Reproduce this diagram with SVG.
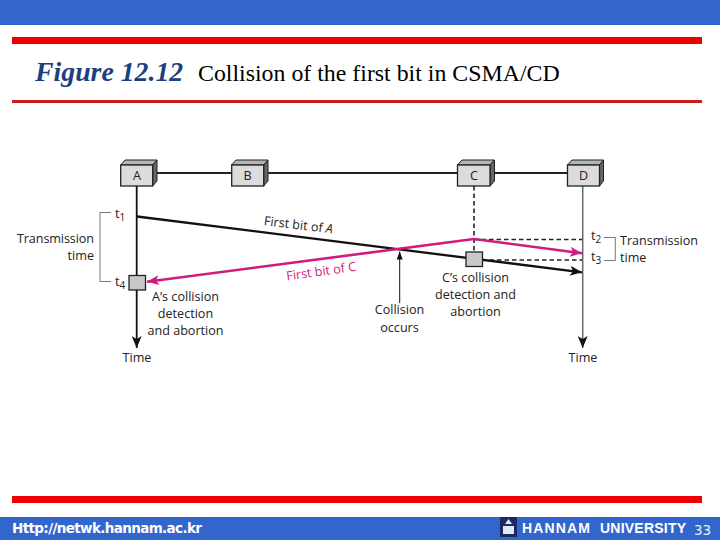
<svg xmlns="http://www.w3.org/2000/svg" width="720" height="540" viewBox="0 0 720 540">
<defs>
<style>
text{font-family:"Open Sans","Noto Sans","Liberation Sans",sans-serif;font-size:12.600px;fill:#222}
.m{text-anchor:middle}
.front{fill:#dcdcdc;stroke:#222;stroke-width:1.3}
.top{fill:#b5b5b5;stroke:#222;stroke-width:1}
.side{fill:#666;stroke:#222;stroke-width:1}
.sq{fill:#c8c8c8;stroke:#222;stroke-width:1.3}
.dash{fill:none;stroke:#222;stroke-width:1.600;stroke-dasharray:4.500 3}
.br{fill:none;stroke:#777;stroke-width:1}
.foot{font-family:"Liberation Sans",sans-serif;font-size:14px;font-weight:bold;fill:#fff}
</style>
<marker id="ak" markerUnits="userSpaceOnUse" viewBox="0 0 12 10" refX="12" refY="5" markerWidth="12" markerHeight="10" orient="auto"><path d="M0 0L12 5L0 10L3 5Z" fill="#111"/></marker>
<marker id="am" markerUnits="userSpaceOnUse" viewBox="0 0 12 10" refX="12" refY="5" markerWidth="13" markerHeight="10" orient="auto"><path d="M0 0L12 5L0 10L3 5Z" fill="#d01c7c"/></marker>
<marker id="as" markerUnits="userSpaceOnUse" viewBox="0 0 8 6" refX="8" refY="3" markerWidth="8" markerHeight="6" orient="auto"><path d="M0 0L8 3L0 6Z" fill="#111"/></marker>
</defs>
<rect width="720" height="540" fill="#fff"/>
<g id="frame">
<rect x="0" y="0" width="720" height="25" fill="#3366cc"/>
<rect x="12" y="37" width="690" height="7" fill="#ee0000"/>
<rect x="12" y="100" width="690" height="3" fill="#c81e1e"/>
<rect x="12" y="496" width="690" height="7" fill="#ee0000"/>
<rect x="0" y="517" width="720" height="23" fill="#3366cc"/>
<rect x="500" y="517" width="17" height="20" fill="#1a2a5e"/>
<path d="M508.500 519L512 524L505 524Z M503 526H514V534H503Z" fill="#dfe6f5"/>
</g>
<text x="35" y="81" style="font-family:'Liberation Serif',serif;font-size:27.800px;font-weight:bold;font-style:italic;fill:#1c3f80">Figure 12.12</text>
<text x="198" y="81" style="font-family:'Liberation Serif',serif;font-size:23.850px;fill:#000">Collision of the first bit in CSMA/CD</text>
<text x="12" y="533" style="font-family:'DejaVu Sans',sans-serif;font-size:13.500px;font-weight:bold;fill:#fff" textLength="190">Http://netwk.hannam.ac.kr</text>
<text x="522" y="533" class="foot" textLength="68">HANNAM</text>
<text x="600" y="533" class="foot" textLength="86">UNIVERSITY</text>
<text x="694" y="535" style="font-family:'DejaVu Sans',sans-serif;font-size:13.500px;fill:#e8eefa">33</text>
<g id="connectors">
<path d="M153 173H232M268 173H458M494 173H568" fill="none" stroke="#222" stroke-width="2"/>
<path d="M136.700 186V348" fill="none" stroke="#111" stroke-width="1.800" marker-end="url(#ak)"/>
<path d="M582.700 186V348" fill="none" stroke="#666" stroke-width="1.500" marker-end="url(#ak)"/>
<path class="dash" d="M474 186V252" stroke-width="2"/>
<path class="dash" d="M474 239.500H582M482 260H582"/>
<path d="M137 216.500L582 272.300" fill="none" stroke="#111" stroke-width="2.300" marker-end="url(#ak)"/>
<path d="M474 239L582 253.300" fill="none" stroke="#d01c7c" stroke-width="2.600" marker-end="url(#am)"/>
<path d="M474 239L147 281.700" fill="none" stroke="#d01c7c" stroke-width="2.600" marker-end="url(#am)"/>
<path d="M399.700 303V251.500" fill="none" stroke="#111" stroke-width="1" marker-end="url(#as)"/>
<path class="br" d="M111 212.500H100V281.500H111"/>
<path class="br" d="M604 237.500H615.300V260.500H604"/>
</g>
<g id="node-a"><path class="top" d="M120.700 165L125 160H157L152.700 165Z"/><path class="side" d="M152.700 165L157 160V181L152.700 186Z"/><rect class="front" x="120.700" y="165" width="32" height="21"/><text class="m" x="137" y="180">A</text></g>
<g id="node-b"><path class="top" d="M231.700 165L236 160H268L263.700 165Z"/><path class="side" d="M263.700 165L268 160V181L263.700 186Z"/><rect class="front" x="231.700" y="165" width="32" height="21"/><text class="m" x="247.500" y="180">B</text></g>
<g id="node-c"><path class="top" d="M457.500 165L462 160H494.500L490 165Z"/><path class="side" d="M490 165L494.500 160V181L490 186Z"/><rect class="front" x="457.500" y="165" width="32.500" height="21"/><text class="m" x="474" y="180">C</text></g>
<g id="node-d"><path class="top" d="M567.500 165L572 160H603.500L599.500 165Z"/><path class="side" d="M599.500 165L603.500 160V181L599.500 186Z"/><rect class="front" x="567.500" y="165" width="32" height="21"/><text class="m" x="583.500" y="180">D</text></g>
<g id="detect-a"><rect class="sq" x="129" y="275.500" width="16.500" height="14.500"/></g>
<g id="detect-c"><rect class="sq" x="466" y="252" width="16.500" height="14.500"/></g>
<text x="115" y="218">t<tspan font-size="10" dy="3">1</tspan></text>
<text x="115" y="286">t<tspan font-size="10" dy="3">4</tspan></text>
<text x="591" y="240">t<tspan font-size="10" dy="3">2</tspan></text>
<text x="591" y="261">t<tspan font-size="10" dy="3">3</tspan></text>
<text x="94" y="243" text-anchor="end" textLength="77">Transmission</text>
<text x="94" y="260" text-anchor="end">time</text>
<text x="620" y="245" textLength="78">Transmission</text>
<text x="620" y="262">time</text>
<text class="m" x="185.500" y="301">A’s collision</text>
<text class="m" x="185.500" y="318">detection</text>
<text class="m" x="185.500" y="335">and abortion</text>
<text class="m" x="475.500" y="282">C’s collision</text>
<text class="m" x="475.500" y="299">detection and</text>
<text class="m" x="475.500" y="316">abortion</text>
<text class="m" x="399.500" y="314">Collision</text>
<text class="m" x="399.500" y="332">occurs</text>
<text class="m" x="137" y="362">Time</text>
<text class="m" x="583" y="362">Time</text>
<text transform="translate(263.500 225) rotate(7)">First bit of <tspan font-style="italic">A</tspan></text>
<text transform="translate(287 280.500) rotate(-8)" style="fill:#d01c7c">First bit of C</text>
</svg>
